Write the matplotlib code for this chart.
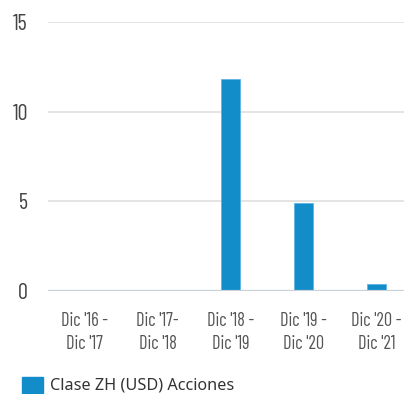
import matplotlib
matplotlib.use('Agg')
import matplotlib.pyplot as plt
import matplotlib.patches as mpatches
import numpy as np

# annual performance periods and returns (%)
periods = ["Dic '16 -\nDic '17", "Dic '17-\nDic '18", "Dic '18 -\nDic '19",
           "Dic '19 -\nDic '20", "Dic '20 -\nDic '21"]
returns = [np.nan, np.nan, 11.8, 4.9, 0.4]
yticks = [0, 5, 10, 15]
series_name = "Clase ZH (USD) Acciones"

bar_color = '#138dc9'
narrow = ['Barlow Condensed', 'DejaVu Sans']

fig = plt.figure(figsize=(4.04, 3.94), dpi=100)
ax = fig.add_axes([48/404, (394-291)/394, 356/404, (291-22)/394])

x = np.arange(len(periods))
ax.bar(x, returns, width=0.26, color=bar_color, edgecolor='#5fb4e0', linewidth=0.6, zorder=3)

ax.set_ylim(0, 15)
ax.set_xlim(-0.5, 4.5 - 9/73)
ax.set_yticks(yticks)
ax.set_yticklabels([str(t) for t in yticks], family=narrow, fontsize=16, color='#444444')
ax.set_xticks(x)
ax.set_xticklabels(periods, family=narrow, fontsize=13.2, color='#555555', linespacing=1.35)
ax.tick_params(axis='both', length=0)
ax.tick_params(axis='y', pad=14.5)
ax.tick_params(axis='x', pad=15)

for t in yticks[1:]:
    ax.axhline(t, color='#dcdcdc', linewidth=1.1, zorder=1)
ax.axhline(0, color='#c8d0d8', linewidth=1.6, zorder=4)
for s in ax.spines.values():
    s.set_visible(False)

# legend below the axes
fig.patches.append(mpatches.Rectangle((22/404, 1 - 393/394), 21/404, 16/394,
                                      transform=fig.transFigure, color=bar_color))
fig.text(50/404, 1 - 385/394, series_name, fontsize=11.7, color='#333333',
         family=['Noto Sans', 'DejaVu Sans'], va='center')

fig.savefig('out.png', dpi=100)
